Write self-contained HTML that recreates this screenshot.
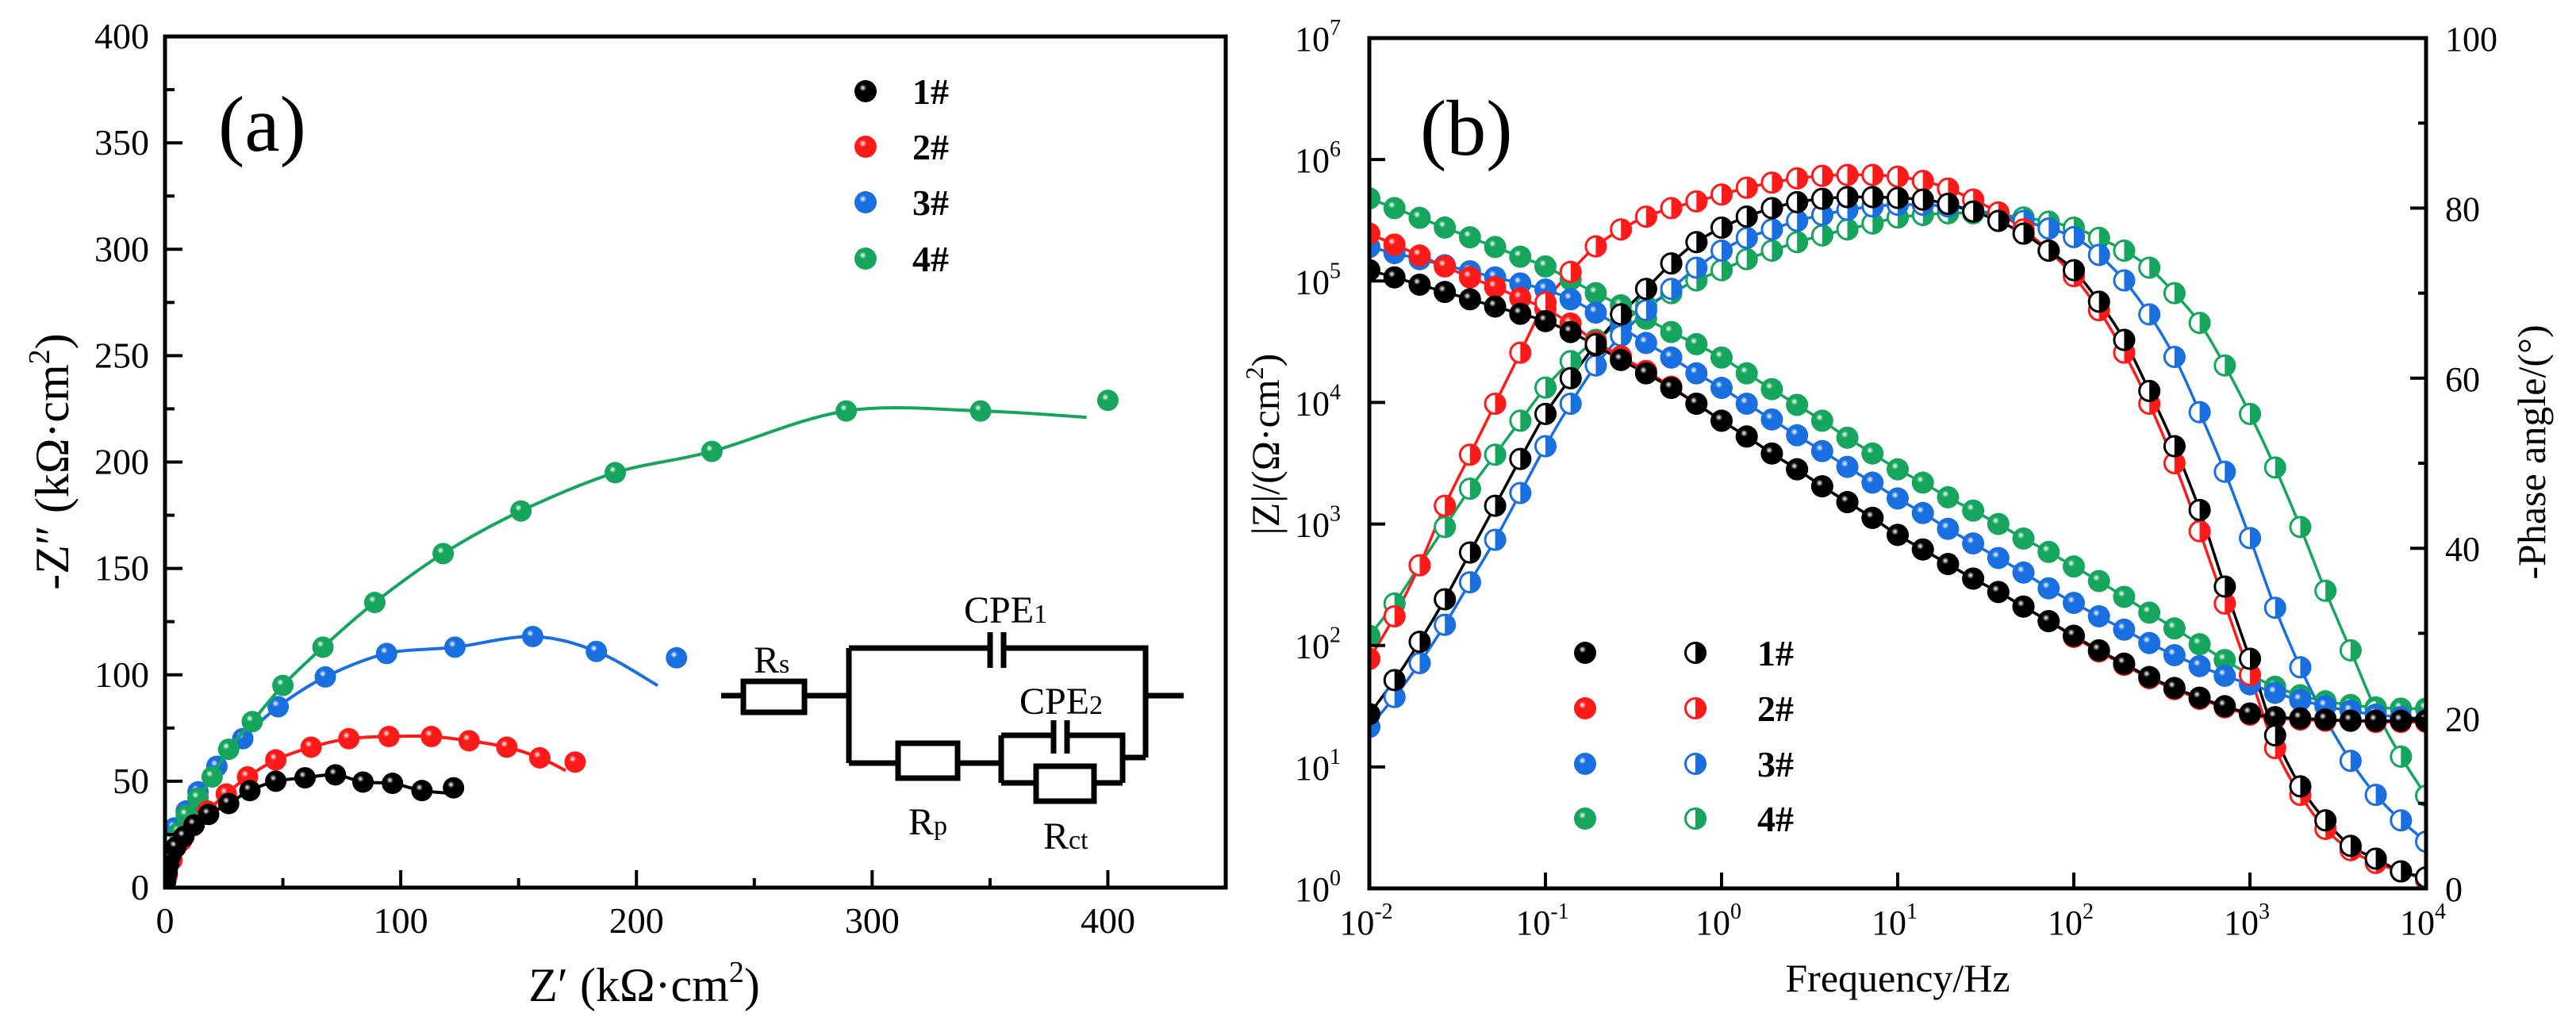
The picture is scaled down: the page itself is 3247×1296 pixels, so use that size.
<!DOCTYPE html>
<html><head><meta charset="utf-8"><style>
html,body{margin:0;padding:0;background:#fff;}
svg{display:block;}
svg text{font-family:"Liberation Serif","DejaVu Serif",serif;}
</style></head><body>
<svg id="fig" width="3247" height="1296" viewBox="0 0 3247 1296" xmlns="http://www.w3.org/2000/svg" font-family="Liberation Serif, DejaVu Serif, serif">
<defs id="defs"></defs>
<g id="pa"></g>
<g id="pb"></g>
</svg>
<script>
// ---------- Panel (a) Nyquist data (kOhm cm2) ----------
const nyqSeries = ['1#','2#','3#','4#'];
const nyqX1 = [0.3,0.8,1.5,2.3,4.6,8,12.4,18.5,27,36,47,59.4,72.3,84,96.5,109,122.4];
const nyqY1 = [3,7,11,15,19,24,29.5,34.4,39.5,45.6,50,51.6,53,49.6,49,45.6,46.9];
const nyqX2 = [1,3,7,12,18,26,35,47,62,78,95,113,129,145,159,174];
const nyqY2 = [6,13,22,29,36,44,52,60,66,70,71,71,69,66,61,59];
const nyqX3 = [0.5,1.5,4,9,14,22,33,48,68,94,123,156,183,217];
const nyqY3 = [8,16,28,36,45,57,70,85,99,110,113,118,111,108];
const nyqX4 = [1,3,6,9,14,20,27,37,50,67,89,118,151,191,232,289,346,400];
const nyqY4 = [8,17,26,34,42,52,65,78,95,113,134,157,177,195,205,224,224,229];
const nyqFitEndX = [125,170,209,391];
const nyqFitEndY = [44,55,95,221];
const nyqXTicks = [0,100,200,300,400];
const nyqYTicks = [0,50,100,150,200,250,300,350,400];

// ---------- Panel (b) Bode data ----------
const bodeLogF = [];
for (let i=0;i<43;i++) bodeLogF.push(-2 + i/7);
const logZ1 = [5.09,5.03,4.97,4.91,4.85,4.79,4.73,4.67,4.58,4.47,4.35,4.24,4.12,3.99,3.85,3.72,3.58,3.45,3.31,3.18,3.05,2.91,2.79,2.67,2.55,2.44,2.32,2.20,2.08,1.96,1.85,1.74,1.65,1.57,1.50,1.44,1.41,1.40,1.39,1.38,1.38,1.38,1.38];
const logZ2 = [5.39,5.30,5.21,5.12,5.03,4.95,4.86,4.77,4.65,4.50,4.38,4.26,4.13,3.99,3.85,3.72,3.58,3.45,3.31,3.18,3.05,2.91,2.79,2.67,2.55,2.44,2.32,2.20,2.07,1.95,1.84,1.73,1.64,1.56,1.49,1.43,1.40,1.39,1.38,1.38,1.37,1.37,1.37];
const logZ3 = [5.28,5.23,5.18,5.13,5.08,5.03,4.98,4.93,4.85,4.74,4.62,4.49,4.37,4.24,4.12,3.99,3.86,3.73,3.60,3.47,3.34,3.21,3.09,2.96,2.84,2.72,2.60,2.47,2.35,2.24,2.13,2.02,1.92,1.83,1.75,1.68,1.61,1.55,1.50,1.46,1.43,1.41,1.39];
const logZ4 = [5.68,5.60,5.52,5.44,5.36,5.28,5.20,5.12,5.01,4.90,4.80,4.69,4.58,4.48,4.37,4.24,4.11,3.98,3.85,3.71,3.58,3.45,3.34,3.22,3.11,3.00,2.88,2.77,2.65,2.53,2.40,2.27,2.14,2.01,1.88,1.76,1.66,1.59,1.54,1.51,1.49,1.48,1.48];
const phase1 = [20.5,24.5,29,34,39.5,45,50.5,55.8,60,64,67.5,70.5,73.5,76,77.7,79,80,80.7,81.1,81.3,81.3,81.2,81,80.5,79.6,78.5,77,75,72.7,69,64.5,58.5,52,44.5,35.5,27,18,12,8,5,3.5,2,1.3];
const phase2 = [27,32,38,45,51,57,63,68.9,72.5,75.5,77.5,79,80,80.8,81.6,82.4,83,83.5,83.8,83.9,83.9,83.7,83.2,82.3,81,79.5,77.5,75,72,68,63,57,50,42,33.5,25.1,16.5,11,7,4.5,3,2,1];
const phase3 = [19,22.5,26.5,31,36,41,46.5,52,57,61.5,65,68,70.5,73,75,76.5,77.5,78.5,79.2,79.8,80.2,80.4,80.4,80.2,79.8,79.2,78.5,77.6,76.6,74.5,71.5,67.5,62.5,56,49,41.2,33,26,20,15,11,8,5.5];
const phase4 = [29.7,33.5,38,42.5,47,51,55,58.9,62,64.5,66.5,68.5,70,71.5,72.7,74,75,76,76.8,77.5,78.2,78.9,79.2,79.4,79.4,79.2,78.9,78.4,77.7,76.5,75,73,70,66.5,61.5,55.8,49.5,42.5,35,28,21,15.5,10.9];
const bodeXTicks = [-2,-1,0,1,2,3,4];
const bodeZTicks = [0,1,2,3,4,5,6,7];
const bodePTicks = [0,20,40,60,80,100];

const colors = ['#000000','#ff1a1a','#1a6fe0','#16a55c'];
const NS='http://www.w3.org/2000/svg';
function el(tag, attrs, parent){const e=document.createElementNS(NS,tag);for(const k in attrs)e.setAttribute(k,attrs[k]);if(parent)parent.appendChild(e);return e;}

const defs=document.getElementById('defs');
colors.forEach((c,i)=>{
  const g=el('radialGradient',{id:'g'+i,cx:'0.38',cy:'0.35',r:'0.65'},defs);
  el('stop',{offset:'0','stop-color':'#ffffff'},g);
  el('stop',{offset:'0.25','stop-color':c},g);
  el('stop',{offset:'1','stop-color':c},g);
});

const A={l:208,r:1545,t:46,b:1119,xmax:450,ymax:400};
const ax=v=>A.l+(v/A.xmax)*(A.r-A.l);
const ay=v=>A.b-(v/A.ymax)*(A.b-A.t);
const pa=document.getElementById('pa');

function smoothPath(pts){
  let d='M'+pts[0][0]+','+pts[0][1];
  for(let i=0;i<pts.length-1;i++){
    const p0=pts[Math.max(0,i-1)],p1=pts[i],p2=pts[i+1],p3=pts[Math.min(pts.length-1,i+2)];
    const c1x=p1[0]+(p2[0]-p0[0])/6,c1y=p1[1]+(p2[1]-p0[1])/6;
    const c2x=p2[0]-(p3[0]-p1[0])/6,c2y=p2[1]-(p3[1]-p1[1])/6;
    d+=' C'+c1x.toFixed(1)+','+c1y.toFixed(1)+' '+c2x.toFixed(1)+','+c2y.toFixed(1)+' '+p2[0].toFixed(1)+','+p2[1].toFixed(1);
  }
  return d;
}

const nyqXs=[nyqX1,nyqX2,nyqX3,nyqX4], nyqYs=[nyqY1,nyqY2,nyqY3,nyqY4];
const clipA=el('clipPath',{id:'clipA'},defs);
el('rect',{x:A.l,y:A.t,width:A.r-A.l,height:A.b-A.t},clipA);
const gA=el('g',{'clip-path':'url(#clipA)'},pa);
[2,3,1,0].forEach(si=>{
  const xs=nyqXs[si],ys=nyqYs[si];
  const pts=[[ax(0),ay(0)]];
  for(let i=0;i<xs.length-1;i++)pts.push([ax(xs[i]),ay(ys[i])]);
  pts.push([ax(nyqFitEndX[si]),ay(nyqFitEndY[si])]);
  const fit=el('path',{d:smoothPath(pts),fill:'none',stroke:colors[si],'stroke-width':4},gA);
  
  
  for(let i=0;i<xs.length;i++){
    const c=el('circle',{cx:ax(xs[i]),cy:ay(ys[i]),r:13.5,fill:'url(#g'+si+')'},gA);
    
    
  }
});
const fa=el('rect',{x:A.l,y:A.t,width:A.r-A.l,height:A.b-A.t,fill:'none',stroke:'#000','stroke-width':5},pa);


nyqXTicks.forEach(v=>{
  el('line',{x1:ax(v),x2:ax(v),y1:A.b,y2:A.b-22,stroke:'#000','stroke-width':4},pa);
  el('line',{x1:ax(v+50),x2:ax(v+50),y1:A.b,y2:A.b-12,stroke:'#000','stroke-width':4},pa);
  const t=el('text',{x:ax(v),y:1176,'font-size':46,'text-anchor':'middle'},pa);t.textContent=v;
  
  
});
nyqYTicks.forEach(v=>{
  el('line',{x1:A.l,x2:A.l+22,y1:ay(v),y2:ay(v),stroke:'#000','stroke-width':4},pa);
  if(v<400)el('line',{x1:A.l,x2:A.l+12,y1:ay(v+25),y2:ay(v+25),stroke:'#000','stroke-width':4},pa);
  const t=el('text',{x:188,y:ay(v)+15,'font-size':46,'text-anchor':'end'},pa);t.textContent=v;
  
  
});
</script>
<script>
(function(){
const pa=document.getElementById('pa');
pa.insertAdjacentHTML('beforeend',`
<text x="275" y="190" font-size="100">(a)</text>
<text x="812" y="1262" font-size="60" text-anchor="middle">Z′ (kΩ·cm<tspan dy="-24" font-size="38">2</tspan><tspan dy="24">)</tspan></text>
<text transform="translate(86,582) rotate(-90)" font-size="60" text-anchor="middle">-Z″ (kΩ·cm<tspan dy="-24" font-size="38">2</tspan><tspan dy="24">)</tspan></text>
<g font-size="46" font-weight="bold">
<circle cx="1091" cy="115" r="14" fill="url(#g0)"/><text x="1150" y="131">1#</text>
<circle cx="1091" cy="185" r="14" fill="url(#g1)"/><text x="1150" y="201">2#</text>
<circle cx="1091" cy="255" r="14" fill="url(#g2)"/><text x="1150" y="271">3#</text>
<circle cx="1091" cy="326" r="14" fill="url(#g3)"/><text x="1150" y="342">4#</text>
</g>
<g stroke="#000" stroke-width="7" fill="none">
<polyline points="909,877 937,877"/><rect x="937" y="859" width="77" height="39"/>
<polyline points="1014,877 1070,877"/>
<polyline points="1070,817 1070,962"/>
<polyline points="1070,817 1248,817"/><line x1="1248" y1="797" x2="1248" y2="842"/><line x1="1265" y1="797" x2="1265" y2="842"/>
<polyline points="1265,817 1444,817 1444,955"/>
<polyline points="1444,877 1492,877"/>
<polyline points="1070,962 1132,962"/><rect x="1132" y="937" width="75" height="44"/>
<polyline points="1207,962 1262,962"/>
<polyline points="1262,927 1262,987"/>
<polyline points="1262,927 1328,927"/><line x1="1328" y1="908" x2="1328" y2="950"/><line x1="1345" y1="908" x2="1345" y2="950"/>
<polyline points="1345,927 1415,927 1415,987"/>
<polyline points="1262,987 1306,987"/><rect x="1306" y="966" width="73" height="44"/>
<polyline points="1379,987 1415,987"/>
<polyline points="1415,955 1444,955"/>
</g>
<g font-size="48" fill="#000">
<text x="950" y="848">R<tspan font-size="34">s</tspan></text>
<text x="1215" y="785">CPE<tspan font-size="34">1</tspan></text>
<text x="1285" y="900">CPE<tspan font-size="34">2</tspan></text>
<text x="1145" y="1052">R<tspan font-size="34">p</tspan></text>
<text x="1315" y="1070">R<tspan font-size="34">ct</tspan></text>
</g>`);
})();
</script>
<script>
(function(){
const B={l:1726,r:3058,t:48,b:1120};
const bx=v=>B.l+(v+2)/6*(B.r-B.l);
const byZ=v=>B.b-v/7*(B.b-B.t);
const byP=v=>B.b-v/100*(B.b-B.t);
const pb=document.getElementById('pb');
const defs=document.getElementById('defs');
const clipB=el('clipPath',{id:'clipB'},defs);
el('rect',{x:B.l,y:B.t,width:B.r-B.l,height:B.b-B.t},clipB);
const g=el('g',{'clip-path':'url(#clipB)'},pb);
const Zs=[logZ1,logZ2,logZ3,logZ4], Ps=[phase1,phase2,phase3,phase4];
[3,2,1,0].forEach(si=>{
  const zp=bodeLogF.map((f,i)=>[bx(f),byZ(Zs[si][i])]);
  const pp=bodeLogF.map((f,i)=>[bx(f),byP(Ps[si][i])]);
  const l1=el('path',{d:smoothPath(zp),fill:'none',stroke:colors[si],'stroke-width':3.5},g);
  
  
  const l2=el('path',{d:smoothPath(pp),fill:'none',stroke:colors[si],'stroke-width':3.5},g);
  
  
});
[3,2,1,0].forEach(si=>{
  bodeLogF.forEach((f,i)=>{
    const c=el('circle',{cx:bx(f),cy:byZ(Zs[si][i]),r:14,fill:'url(#g'+si+')'},g);
    
    
  });
  bodeLogF.forEach((f,i)=>{
    const x=bx(f),y=byP(Ps[si][i]);
    const h=el('g',{},g);
    
    
    el('circle',{cx:x,cy:y,r:12.5,fill:'#fff',stroke:colors[si],'stroke-width':3},h);
    el('path',{d:`M${x},${y-14} A14,14 0 0 1 ${x},${y+14} Z`,fill:colors[si]},h);
  });
});
const fb=el('rect',{x:B.l,y:B.t,width:B.r-B.l,height:B.b-B.t,fill:'none',stroke:'#000','stroke-width':5},pb);


bodeXTicks.forEach(v=>{
  el('line',{x1:bx(v),x2:bx(v),y1:B.b,y2:B.b-20,stroke:'#000','stroke-width':4},pb);
  const t=el('text',{x:bx(v)-4,y:1178,'font-size':44,'text-anchor':'middle'},pb);
  t.innerHTML='10<tspan dy="-20" font-size="28">'+v+'</tspan>';
  
  
});
bodeZTicks.forEach(v=>{
  el('line',{x1:B.l,x2:B.l+20,y1:byZ(v),y2:byZ(v),stroke:'#000','stroke-width':4},pb);
  const t=el('text',{x:1690,y:byZ(v)+16,'font-size':44,'text-anchor':'end'},pb);
  t.innerHTML='10<tspan dy="-20" font-size="28">'+v+'</tspan>';
  
  
});
bodePTicks.forEach(v=>{
  el('line',{x1:B.r,x2:B.r-20,y1:byP(v),y2:byP(v),stroke:'#000','stroke-width':4},pb);
  if(v<100)el('line',{x1:B.r,x2:B.r-10,y1:byP(v+10),y2:byP(v+10),stroke:'#000','stroke-width':4},pb);
  const t=el('text',{x:3082,y:byP(v)+16,'font-size':44,'text-anchor':'start'},pb);
  t.textContent=v;
  
  
});
pb.insertAdjacentHTML('beforeend',`
<text x="1790" y="195" font-size="100">(b)</text>
<text x="2392" y="1250" font-size="50" text-anchor="middle">Frequency/Hz</text>
<text transform="translate(1612,560) rotate(-90)" font-size="50" text-anchor="middle">|Z|/(Ω·cm<tspan dy="-20" font-size="32">2</tspan><tspan dy="20">)</tspan></text>
<text transform="translate(3208,570) rotate(-90)" font-size="50" text-anchor="middle">-Phase angle/(°)</text>
<g font-size="46" font-weight="bold">
<circle cx="1998" cy="823" r="14" fill="url(#g0)"/><text x="2215" y="839">1#</text>
<circle cx="1998" cy="893" r="14" fill="url(#g1)"/><text x="2215" y="909">2#</text>
<circle cx="1998" cy="963" r="14" fill="url(#g2)"/><text x="2215" y="979">3#</text>
<circle cx="1998" cy="1032" r="14" fill="url(#g3)"/><text x="2215" y="1048">4#</text>
</g>`);
[823,893,963,1032].forEach((y,si)=>{
  const x=2137;
  const h=el('g',{},pb);
  
  
  el('circle',{cx:x,cy:y,r:12.5,fill:'#fff',stroke:colors[si],'stroke-width':3},h);
  el('path',{d:`M${x},${y-14} A14,14 0 0 1 ${x},${y+14} Z`,fill:colors[si]},h);
});
})();
</script>
</body></html>
